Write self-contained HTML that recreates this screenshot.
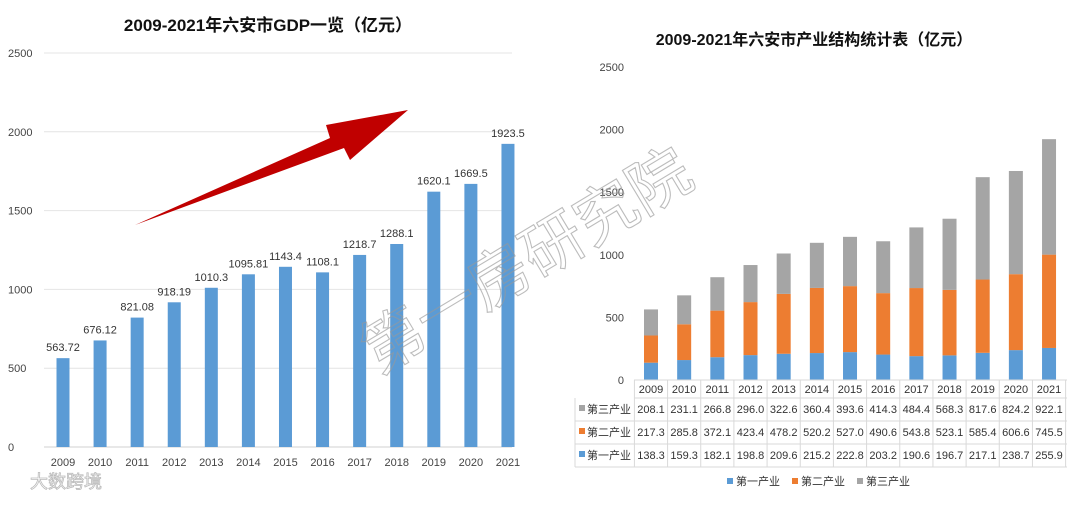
<!DOCTYPE html>
<html><head><meta charset="utf-8">
<style>
body{margin:0;background:#fff;width:1080px;height:500px;overflow:hidden;font-family:"Liberation Sans","Noto Sans CJK SC",sans-serif}
svg text{font-family:"Liberation Sans","Noto Sans CJK SC",sans-serif}
</style></head><body>
<svg id="c" width="1080" height="500">
<text x="268" y="31" text-anchor="middle" font-size="17" font-weight="bold" fill="#111">2009-2021年六安市GDP一览（亿元）</text>
<text x="814" y="45" text-anchor="middle" font-size="16" font-weight="bold" fill="#111">2009-2021年六安市产业结构统计表（亿元）</text>
<g id="L"></g><g id="R"></g>
<polygon points="135,225 330,138 326,125 408,110 350,160 344,148" fill="#c00000"/>
<text x="0" y="0" transform="translate(378,375) rotate(-31)" font-size="62" fill="none" stroke="#999" stroke-width="1.1" opacity="0.65">第一房研究院</text>
<text x="30" y="488" font-size="18" fill="none" stroke="#bbb" stroke-width="0.8">大数跨境</text>
</svg>
<script>
const years=["2009","2010","2011","2012","2013","2014","2015","2016","2017","2018","2019","2020","2021"];
const gdp=[563.72,676.12,821.08,918.19,1010.3,1095.81,1143.4,1108.1,1218.7,1288.1,1620.1,1669.5,1923.5];
const gdpLabels=["563.72","676.12","821.08","918.19","1010.3","1095.81","1143.4","1108.1","1218.7","1288.1","1620.1","1669.5","1923.5"];
const primary=[138.3,159.3,182.1,198.8,209.6,215.2,222.8,203.2,190.6,196.7,217.1,238.7,255.9];
const secondary=[217.3,285.8,372.1,423.4,478.2,520.2,527.0,490.6,543.8,523.1,585.4,606.6,745.5];
const tertiary=[208.1,231.1,266.8,296.0,322.6,360.4,393.6,414.3,484.4,568.3,817.6,824.2,922.1];
const ticks=[0,500,1000,1500,2000,2500];
const seriesNames=["第三产业","第二产业","第一产业"];
const colors={p:"#5b9bd5",s:"#ed7d31",t:"#a5a5a5"};
const NS="http://www.w3.org/2000/svg";
function mk(p,tag,a,txt){const e=document.createElementNS(NS,tag);for(const k in a)e.setAttribute(k,a[k]);if(txt!==undefined)e.textContent=txt;p.appendChild(e);return e;}
// left
const L=document.getElementById('L');
const ly=v=>447-v*(394/2500), lx=i=>63+i*37.08;
ticks.forEach(t=>{const g=mk(L,'line',{x1:44,x2:512,y1:ly(t),y2:ly(t),stroke:t?'#e4e4e4':'#d0d0d0'});

const tx=mk(L,'text',{x:8,y:ly(t)+4,'font-size':11,fill:'#444'},t);
});
years.forEach((y,i)=>{const b=mk(L,'rect',{x:lx(i)-6.5,y:ly(gdp[i]),width:13,height:447-ly(gdp[i]),fill:colors.p});

const v=mk(L,'text',{x:lx(i),y:ly(gdp[i])-7,'font-size':11,fill:'#333','text-anchor':'middle'},gdpLabels[i]);

const xl=mk(L,'text',{x:lx(i),y:466,'font-size':11,fill:'#444','text-anchor':'middle'},y);
});
// right
const R=document.getElementById('R');
const ry=v=>380-v*(313/2500), rx=i=>651+i*33.17;
ticks.forEach(t=>{const tx=mk(R,'text',{x:624,y:ry(t)+4,'font-size':11,fill:'#444','text-anchor':'end'},t);
});
years.forEach((y,i)=>{let base=0;[[primary,colors.p,'primary-bar'],[secondary,colors.s,'secondary-bar'],[tertiary,colors.t,'tertiary-bar']].forEach(([arr,c,n])=>{
const b=mk(R,'rect',{x:rx(i)-7,y:ry(base+arr[i]),width:14,height:ry(base)-ry(base+arr[i]),fill:c});
base+=arr[i];});});
// table
const rows=[398,421,444,467];
mk(R,'line',{x1:634,x2:1067,y1:380,y2:380,stroke:'#d9d9d9'});
rows.forEach(r=>mk(R,'line',{x1:r==398?634:575,x2:1067,y1:r,y2:r,stroke:'#d9d9d9'}));
mk(R,'line',{x1:575,x2:575,y1:398,y2:467,stroke:'#d9d9d9'});
for(let i=0;i<=13;i++){const x=634.4+i*33.17;mk(R,'line',{x1:x,x2:x,y1:380,y2:467,stroke:'#d9d9d9'});}
years.forEach((y,i)=>{const t=mk(R,'text',{x:rx(i),y:393,'font-size':11,fill:'#333','text-anchor':'middle'},y);
});
[[tertiary,colors.t],[secondary,colors.s],[primary,colors.p]].forEach(([arr,c],r)=>{const cy=rows[r]+15;
mk(R,'rect',{x:579,y:cy-8,width:6,height:6,fill:c});
const n=mk(R,'text',{x:587,y:cy,'font-size':11,fill:'#333'},seriesNames[r]);

arr.forEach((v,i)=>{const t=mk(R,'text',{x:rx(i),y:cy,'font-size':11,fill:'#333','text-anchor':'middle'},v.toFixed(1));
});});
// legend
[["第一产业",colors.p,727],["第二产业",colors.s,792],["第三产业",colors.t,857]].forEach(([n,c,x])=>{
const r=mk(R,'rect',{x:x,y:478,width:6,height:6,fill:c});

const t=mk(R,'text',{x:x+9,y:485,'font-size':11,fill:'#333'},n);
});
</script>
</body></html>
